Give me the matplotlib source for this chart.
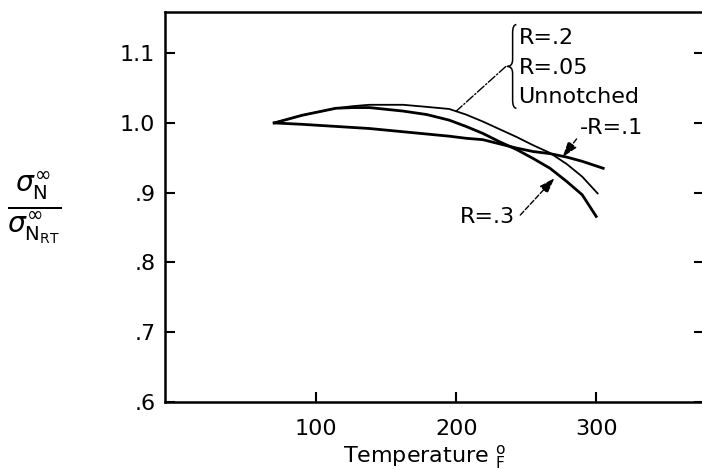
import numpy as np
import matplotlib.pyplot as plt
from matplotlib.path import Path
from matplotlib.patches import PathPatch

plt.rcParams['font.family'] = 'DejaVu Sans'
plt.rcParams['mathtext.fontset'] = 'dejavusans'

# temperature (deg F) and normalized strength
temp_upper = [70, 90, 114, 126, 138, 162, 179, 195, 207, 219, 231, 243, 255, 267, 279, 290, 301]
ratio_upper = [1.000, 1.011, 1.021, 1.024, 1.026, 1.026, 1.023, 1.020, 1.012, 1.002,
               0.991, 0.980, 0.968, 0.957, 0.941, 0.923, 0.899]

temp_r3 = [70, 90, 114, 126, 138, 162, 179, 195, 207, 219, 231, 243, 255, 267, 279, 290, 300]
ratio_r3 = [1.000, 1.011, 1.021, 1.022, 1.022, 1.017, 1.012, 1.004, 0.995, 0.985,
            0.973, 0.962, 0.949, 0.935, 0.916, 0.897, 0.866]

temp_r1 = [70, 90, 138, 195, 207, 219, 231, 243, 255, 267, 279, 290, 305]
ratio_r1 = [1.000, 0.998, 0.992, 0.981, 0.978, 0.976, 0.970, 0.964, 0.959, 0.956,
            0.951, 0.945, 0.935]

group_labels = ['R=.2', 'R=.05', 'Unnotched']
group_label_y = [1.122, 1.079, 1.037]

xticks = [100, 200, 300]
yticks = [0.6, 0.7, 0.8, 0.9, 1.0, 1.1]
ytick_labels = ['.6', '.7', '.8', '.9', '1.0', '1.1']

W, H = 702, 470
fig = plt.figure(figsize=(W / 100, H / 100), dpi=100)
ax = fig.add_axes([165 / W, 68 / H, 539 / W, 390 / H])

ax.plot(temp_upper, ratio_upper, color='black', lw=1.3)
ax.plot(temp_r3, ratio_r3, color='black', lw=2.0)
ax.plot(temp_r1, ratio_r1, color='black', lw=2.0)

ax.set_xlim(-8, 377)
ax.set_ylim(0.6, 1.159)
ax.set_xticks(xticks)
ax.set_xticklabels([str(t) for t in xticks])
ax.set_yticks(yticks)
ax.set_yticklabels(ytick_labels)
ax.tick_params(axis='both', direction='in', length=7, width=1.5, labelsize=16)
ax.tick_params(axis='y', right=True, pad=7)
ax.tick_params(axis='x', pad=12)
for s in ax.spines.values():
    s.set_linewidth(1.8)

# bracketed group of curves
tx = 244.5
for lab, yy in zip(group_labels, group_label_y):
    ax.text(tx, yy, lab, fontsize=16, ha='left', va='center')
top = group_label_y[0] + 0.019
bot = group_label_y[-1] - 0.016
mid = (top + bot) / 2
xv, xt, xe = tx - 4.2, tx - 8, tx - 1.5
verts = [(xe, top), (xv, top), (xv, top - 0.012),
         (xv, mid + 0.010), (xv, mid), (xt, mid),
         (xv, mid), (xv, mid - 0.010),
         (xv, bot + 0.012), (xv, bot), (xe, bot)]
codes = [Path.MOVETO, Path.CURVE3, Path.CURVE3,
         Path.LINETO, Path.CURVE3, Path.CURVE3,
         Path.CURVE3, Path.CURVE3,
         Path.LINETO, Path.CURVE3, Path.CURVE3]
ax.add_patch(PathPatch(Path(verts, codes), fill=False, lw=1.1, color='black'))
ax.annotate('', xy=(200.2, 1.0172), xytext=(xt - 1, mid),
            arrowprops=dict(arrowstyle='-', lw=1.0, linestyle='-.', color='black',
                            shrinkA=0, shrinkB=0))

ax.annotate('-R=.1', xy=(276, 0.951), xytext=(288, 0.993), fontsize=16,
            ha='left', va='center',
            arrowprops=dict(arrowstyle='-|>,head_length=0.6,head_width=0.2', lw=1.0,
                            linestyle='--', color='black', relpos=(0.03, 0.25),
                            shrinkA=0, shrinkB=0))

ax.annotate('R=.3', xy=(270.2, 0.921), xytext=(202.4, 0.865), fontsize=16,
            ha='left', va='center',
            arrowprops=dict(arrowstyle='-|>,head_length=0.6,head_width=0.2', lw=1.0,
                            linestyle='--', color='black', relpos=(1.0, 0.3),
                            shrinkA=3, shrinkB=0))

fig.text(34 / W, 1 - 208 / H,
         r'$\frac{\sigma_{\mathrm{N}}^{\infty}}{\sigma_{\mathrm{N}_{\mathrm{RT}}}^{\infty}}$',
         fontsize=29, ha='center', va='center')
fig.text(425 / W, 1 - 457 / H, r'Temperature $^{\mathrm{o}}_{\mathrm{F}}$',
         fontsize=16, ha='center', va='center')

fig.savefig('out.png', dpi=100)
